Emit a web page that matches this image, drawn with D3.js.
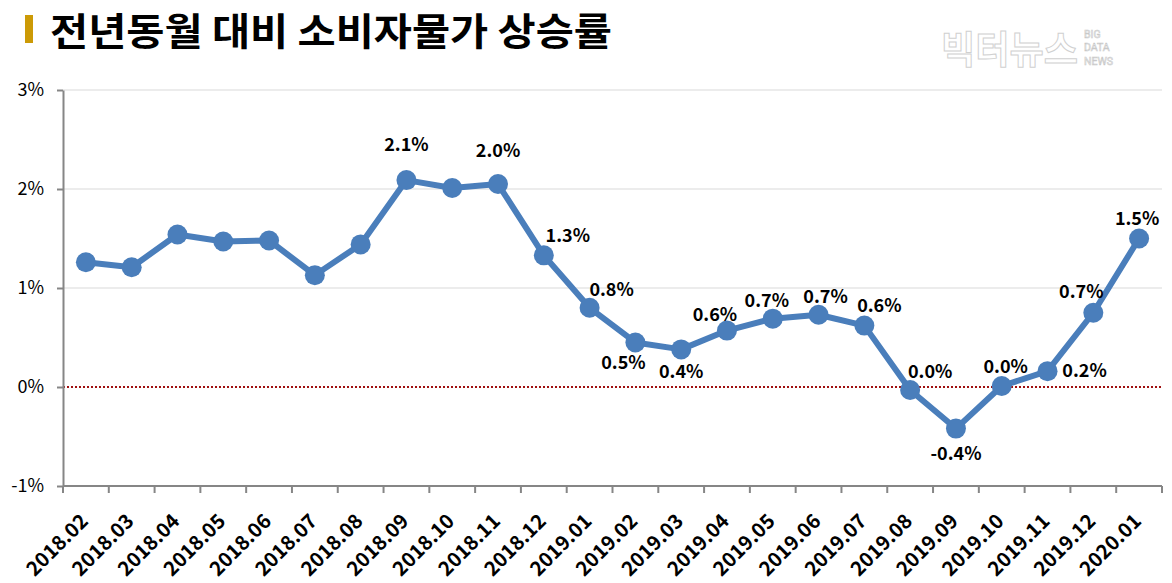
<!DOCTYPE html>
<html>
<head>
<meta charset="utf-8">
<script src="https://cdn.jsdelivr.net/npm/d3@7"></script>
<style>
  body { margin: 0; background: #fff; }
  svg { display: block; font-family: "Noto Sans CJK KR", "Noto Sans", sans-serif; }
</style>
</head>
<body>
<div id="chart"></div>
<script>
// months on the x axis
const months = ['2018.02','2018.03','2018.04','2018.05','2018.06','2018.07','2018.08','2018.09',
                '2018.10','2018.11','2018.12','2019.01','2019.02','2019.03','2019.04','2019.05',
                '2019.06','2019.07','2019.08','2019.09','2019.10','2019.11','2019.12','2020.01'];

// year-on-year CPI change (%)
const rates = [1.26, 1.21, 1.54, 1.47, 1.48, 1.13, 1.44, 2.09,
               2.01, 2.05, 1.33, 0.80, 0.45, 0.38, 0.57, 0.69,
               0.73, 0.62, -0.03, -0.42, 0.01, 0.16, 0.75, 1.50];

// data labels (null = not labelled)
const labels = [null, null, null, null, null, null, null, '2.1%',
                null, '2.0%', '1.3%', '0.8%', '0.5%', '0.4%', '0.6%', '0.7%',
                '0.7%', '0.6%', '0.0%', '-0.4%', '0.0%', '0.2%', '0.7%', '1.5%'];

// label offset from its point [dx, dy] in px
const labelOffsets = [null, null, null, null, null, null, null, [0, -35],
                      null, [0, -33], [24, -20], [22, -18], [-12, 20], [0, 22], [-12, -16], [-6, -18],
                      [7, -18], [15, -20], [20, -18], [0, 25], [4, -19], [37, 0], [-12, -21], [-2, -20]];

const yTicks = [-1, 0, 1, 2, 3];

const width = 1172, height = 583;
const left = 63, right = 1162;

const svg = d3.select('#chart').append('svg')
    .attr('width', width)
    .attr('height', height);

// title
svg.append('rect')
    .attr('x', 25).attr('y', 15)
    .attr('width', 8).attr('height', 28)
    .style('fill', '#cc9a06');
svg.append('text')
    .attr('x', 50).attr('y', 45)
    .attr('textLength', 562)
    .attr('lengthAdjust', 'spacingAndGlyphs')
    .text('전년동월 대비 소비자물가 상승률')
    .style('font-size', '38px')
    .style('font-weight', 'bold')
    .style('fill', '#000');

// watermark logo
svg.append('text')
    .attr('x', 941).attr('y', 63)
    .attr('textLength', 137)
    .attr('lengthAdjust', 'spacingAndGlyphs')
    .text('빅터뉴스')
    .style('font-size', '38px')
    .style('font-weight', 'bold')
    .style('fill', '#fff')
    .style('stroke', '#d0d0d0')
    .style('stroke-width', 1);
svg.append('g').selectAll('text')
    .data(['BIG', 'DATA', 'NEWS'])
    .join('text')
    .attr('x', 1084)
    .attr('y', (d, i) => 37.5 + i * 13.5)
    .text(d => d)
    .style('font-family', 'Roboto, sans-serif')
    .style('font-size', '10.5px')
    .style('fill', '#fff')
    .style('stroke', '#c8c8c8')
    .style('stroke-width', 0.6);

const x = d3.scaleBand()
    .domain(months)
    .range([left, right]);

const y = d3.scaleLinear()
    .domain([-1, 3])
    .range([486, 90]);

// gridlines
svg.append('g').selectAll('line.grid')
    .data(yTicks.filter(d => d > 0))
    .join('line')
    .classed('grid', true)
    .attr('x1', left).attr('x2', right)
    .attr('y1', d => y(d)).attr('y2', d => y(d))
    .style('stroke', '#d9d9d9')
    .style('stroke-width', 1);

// zero line (dotted red)
svg.append('line')
    .attr('x1', left).attr('x2', right)
    .attr('y1', y(0)).attr('y2', y(0))
    .style('stroke', '#a01010')
    .style('stroke-width', 2)
    .style('stroke-dasharray', '2 2');

// y axis
const yAxis = svg.append('g')
    .attr('transform', `translate(${left},0)`)
    .call(d3.axisLeft(y).tickValues(yTicks).tickFormat(d => d + '%').tickSize(6).tickSizeOuter(0));
yAxis.select('.domain').style('stroke', '#868686').style('stroke-width', 2);
yAxis.selectAll('.tick line').style('stroke', '#868686').style('stroke-width', 2);
yAxis.selectAll('.tick text')
    .attr('x', -19)
    .style('font-size', '18px')
    .style('font-family', '"Noto Sans CJK KR", sans-serif')
    .style('fill', '#000');

// x axis, ticks on band boundaries
const xAxisG = svg.append('g').attr('transform', `translate(0,${y(-1)})`);
xAxisG.append('line')
    .attr('x1', left).attr('x2', right)
    .style('stroke', '#868686').style('stroke-width', 2);
xAxisG.selectAll('line.tick')
    .data(d3.range(months.length + 1))
    .join('line')
    .classed('tick', true)
    .attr('x1', i => left + i * x.step())
    .attr('x2', i => left + i * x.step())
    .attr('y1', 0).attr('y2', 7)
    .style('stroke', '#868686').style('stroke-width', 2);
xAxisG.selectAll('text')
    .data(months)
    .join('text')
    .attr('transform', d => `translate(${x(d) + x.bandwidth() / 2 - 5},${28}) rotate(-45)`)
    .attr('dy', '0.6em')
    .style('text-anchor', 'end')
    .style('font-size', '20px')
    .style('font-weight', 'bold')
    .style('fill', '#000')
    .text(d => d);

// line
const cx = i => x(months[i]) + x.bandwidth() / 2;
const line = d3.line()
    .x((d, i) => cx(i))
    .y(d => y(d));

svg.append('path')
    .datum(rates)
    .attr('d', line)
    .style('fill', 'none')
    .style('stroke', '#4a7ebb')
    .style('stroke-width', 6)
    .style('stroke-linejoin', 'round');

svg.selectAll('circle.pt')
    .data(rates)
    .join('circle')
    .classed('pt', true)
    .attr('cx', (d, i) => cx(i))
    .attr('cy', d => y(d))
    .attr('r', 10)
    .style('fill', '#4a7ebb');

// data labels
const lbl = rates.map((v, i) => ({v, i, t: labels[i], o: labelOffsets[i]}))
    .filter(d => d.t);
svg.selectAll('text.lbl')
    .data(lbl)
    .join('text')
    .classed('lbl', true)
    .attr('x', d => cx(d.i) + d.o[0])
    .attr('y', d => y(d.v) + d.o[1])
    .attr('dy', '0.35em')
    .style('text-anchor', 'middle')
    .style('font-size', '18px')
    .style('font-weight', 'bold')
    .style('fill', '#000')
    .text(d => d.t);
</script>
</body>
</html>
